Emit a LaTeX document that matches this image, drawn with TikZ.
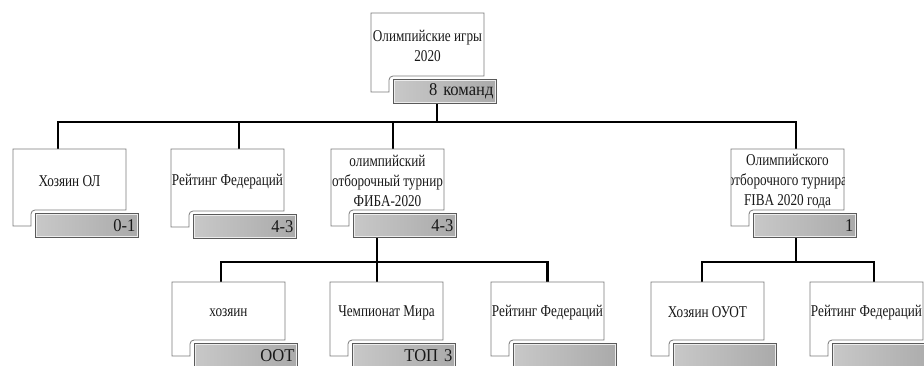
\documentclass[tikz,border=0pt]{standalone}
\usepackage{fontspec}
\setmainfont{Liberation Serif}
\newfontfamily\wfont[FakeStretch=0.8]{Liberation Serif}
\newfontfamily\lfont[FakeStretch=0.92]{Liberation Serif}
\usetikzlibrary{backgrounds}
\definecolor{wl}{HTML}{7A7A7A}
\definecolor{gl}{HTML}{C8C8C8}
\definecolor{gr}{HTML}{AAAAAA}
\definecolor{gb}{HTML}{5A5A5A}
\tikzset{
 conn/.style={line width=2.4pt, black},
 wline/.style={draw=wl, line width=0.8pt, fill=white},
 wtext/.style={inner sep=0pt, align=center, font=\wfont\fontsize{16.5}{20}\selectfont, text=black!90},
 gbox/.style={left color=gl, right color=gr, draw=gb, line width=0.9pt, inner xsep=3pt, inner ysep=0pt,
   text width=97pt, align=right, minimum height=24pt, anchor=north west,
   font=\lfont\fontsize{18}{18}\selectfont, text=black!90,
   path picture={\draw[white!85!gray, line width=3.2pt] (path picture bounding box.north west) rectangle (path picture bounding box.south east);}},
}
\newcommand\orgbox[6]{%
 \pgfmathsetmacro\xa{#2}%
 \pgfmathsetmacro\xb{#2+113}%
 \pgfmathsetmacro\ya{#3}%
 \pgfmathsetmacro\yg{#4}%
 \pgfmathsetmacro\yb{#4+13}%
 \pgfmathsetmacro\gxa{#2+22}%
 \pgfmathsetmacro\xm{#2+56.5}%
 \pgfmathsetmacro\ym{(#3+#4)/2}%
 \pgfmathsetmacro\hh{#4-#3}%
 \path[wline] (\xa,\ya) -- (\xb,\ya) -- (\xb,\yg-3) -- (\gxa,\yg-3) to[out=180,in=90] (\gxa-4,\yg+1) -- (\gxa-4,\yb) -- (\xa,\yb) -- cycle;
 \begin{scope}
 \clip (\xa,\ya) rectangle (\xb,\yb);
 \node[wtext, minimum width=113pt, minimum height=\hh pt] (#1) at (\xm,\ym) {#5};
 \end{scope}
 \node[gbox] (#1g) at (\gxa,\yg) {#6};
}
\begin{document}
\begin{tikzpicture}[x=1pt,y=-1pt]
\useasboundingbox (0,0) rectangle (924,365);
\clip (0,0) rectangle (924,365);
\orgbox{top}{371}{13}{79}{Олимпийские игры\\2020}{8 команд}
\orgbox{b1}{13}{149}{213}{Хозяин ОЛ}{0-1}
\orgbox{b2}{171}{149}{214}{Рейтинг Федераций}{4-3}
\orgbox{b3}{331}{149}{213}{олимпийский\\отборочный турнир\\ФИБА-2020}{4-3}
\orgbox{b4}{731}{149}{213}{Олимпийского\\отборочного турнира\\FIBA 2020 года}{1}
\orgbox{c1}{172}{282}{343}{хозяин}{ООТ}
\orgbox{c2}{330}{282}{343}{Чемпионат Мира}{ТОП 3}
\orgbox{c3}{491}{282}{343}{Рейтинг Федераций}{}
\orgbox{c4}{651}{282}{343}{Хозяин ОУОТ}{}
\orgbox{c5}{810}{282}{343}{Рейтинг Федераций}{}
\begin{pgfonlayer}{background}
\fill[white] (0,0) rectangle (924,365);
\coordinate (h0) at (437,122);
\draw[conn] (topg.south -| h0) -- (h0);
\draw[conn] ([xshift=-11.5pt]b1.north) |- (h0) -| ([xshift=8.5pt]b4.north);
\draw[conn] ([xshift=11.5pt]b2.north) |- (h0);
\draw[conn] ([xshift=5.5pt]b3.north) |- (h0);
\coordinate (h1) at (377,262);
\draw[conn] (b3g.south -| h1) -- (h1);
\draw[conn] ([xshift=-7.5pt]c1.north) |- (h1) -| (c3.north);
\draw[conn] ([xshift=-9.5pt]c2.north) |- (h1);
\coordinate (h2) at (796,262);
\draw[conn] (b4g.south -| h2) -- (h2);
\draw[conn] ([xshift=-5.5pt]c4.north) |- (h2) -| ([xshift=7.5pt]c5.north);
\end{pgfonlayer}
\end{tikzpicture}
\end{document}
